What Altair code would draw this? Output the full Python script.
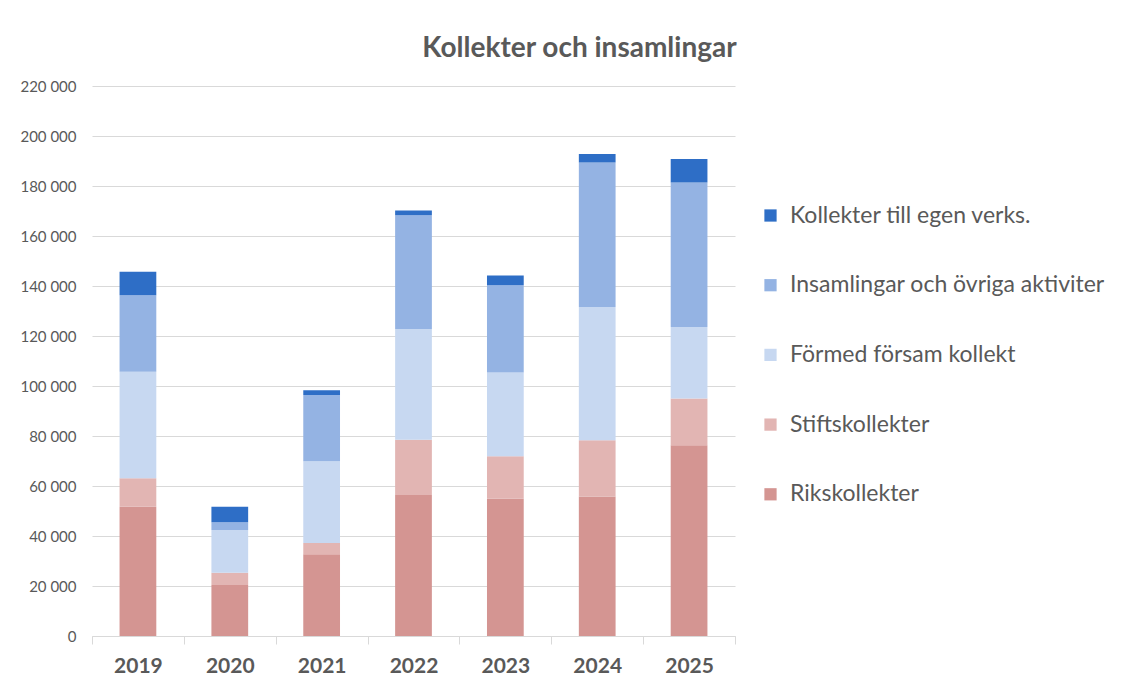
import altair as alt
import pandas as pd

years = ["2019", "2020", "2021", "2022", "2023", "2024", "2025"]
series = [
    "Rikskollekter",
    "Stiftskollekter",
    "Förmed försam kollekt",
    "Insamlingar och övriga aktiviter",
    "Kollekter till egen verks.",
]
rikskollekter = [51700, 20400, 32700, 56400, 54900, 55800, 76300]
stiftskollekter = [11400, 4900, 4500, 22100, 17000, 22500, 18700]
formed = [42600, 17100, 32700, 44300, 33500, 53300, 28600]
insamlingar = [30600, 3100, 26500, 45500, 34900, 57800, 57800]
egen = [9400, 6200, 1900, 1900, 3900, 3400, 9400]
colors = ["#D49592", "#E2B5B3", "#C7D8F1", "#94B3E3", "#2E6EC6"]

values = [rikskollekter, stiftskollekter, formed, insamlingar, egen]
rows = []
for si, (name, vals) in enumerate(zip(series, values)):
    for y, v in zip(years, vals):
        rows.append({"year": y, "series": name, "value": v, "idx": si})
df = pd.DataFrame(rows)

legend_order = series[::-1]
legend_colors = colors[::-1]

chart = (
    alt.Chart(df)
    .mark_bar(width=alt.RelativeBandSize(0.4))
    .encode(
        x=alt.X(
            "year:N",
            title=None,
            scale=alt.Scale(paddingInner=0, paddingOuter=0),
            axis=alt.Axis(
                labelAngle=0,
                labelFont="Lato",
                labelFontSize=21,
                labelFontWeight="bold",
                labelColor="#595959",
                labelPadding=11,
                domainColor="#D9D9D9",
                domainWidth=1,
                tickColor="#D9D9D9",
                tickSize=8,
                tickBand="extent",
                grid=False,
            ),
        ),
        y=alt.Y(
            "value:Q",
            title=None,
            stack="zero",
            scale=alt.Scale(domain=[0, 220000]),
            axis=alt.Axis(
                values=list(range(0, 220001, 20000)),
                labelExpr="replace(format(datum.value, ','), ',', ' ')",
                labelFont="Lato",
                labelFontSize=15,
                labelColor="#595959",
                labelPadding=16,
                domain=False,
                ticks=False,
                gridColor="#D9D9D9",
                gridWidth=1.2,
            ),
        ),
        color=alt.Color(
            "series:N",
            scale=alt.Scale(domain=legend_order, range=legend_colors),
            legend=alt.Legend(
                title=None,
                orient="none",
                legendX=667,
                legendY=118,
                symbolType="square",
                symbolSize=150,
                symbolStrokeWidth=0,
                labelFont="Lato",
                labelFontSize=23,
                labelColor="#595959",
                labelOffset=8,
                rowPadding=45.7,
                labelLimit=450,
            ),
        ),
        order=alt.Order("idx:Q", sort="ascending"),
    )
    .properties(
        width=643,
        height=550,
        padding={"left": 84, "top": 78, "right": 395, "bottom": 41},
        autosize=alt.AutoSizeParams(type="none"),
        title=alt.TitleParams(
            "Kollekter och insamlingar",
            font="Lato",
            fontSize=28,
            fontWeight="bold",
            color="#595959",
            anchor="middle",
            dx=166,
            offset=16,
        ),
    )
    .configure(background="white")
    .configure_view(stroke=None)
)

chart.save("out.html", embed_options={"renderer": "svg", "actions": False})
